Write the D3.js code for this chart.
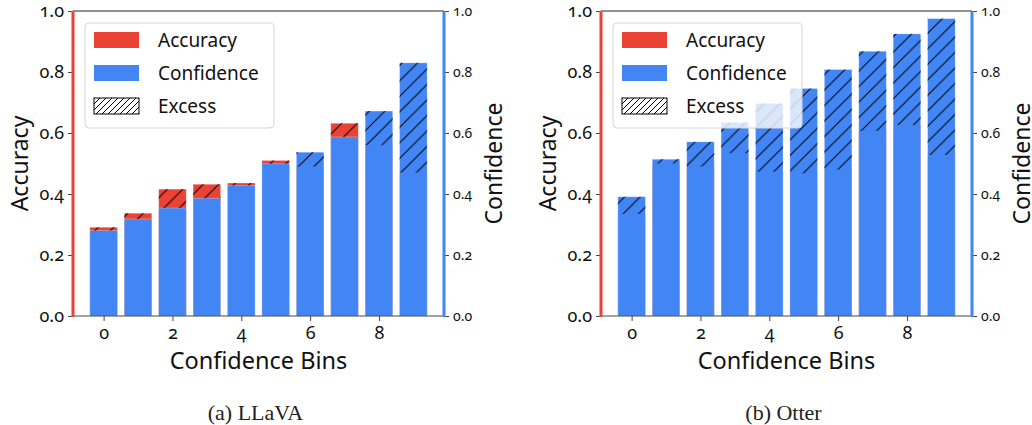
<!DOCTYPE html>
<html lang="en">
<head>
  <meta charset="UTF-8">
  <title>Calibration bins: LLaVA vs Otter</title>
  <style>
    body { margin: 0; background: #fff; }
    svg text { font-family: "Noto Sans", sans-serif; font-variant-numeric: oldstyle-nums; }
    svg text.caption { font-family: "Liberation Serif", "Times New Roman", serif; }
  </style>
</head>
<body>
<svg id="chart" width="1032" height="425"></svg>
<script src="https://d3js.org/d3.v7.min.js"></script>
<script>
  // data (10 confidence bins per model)
  const bins = [0, 1, 2, 3, 4, 5, 6, 7, 8, 9];
  const llavaAccuracy   = [0.291, 0.337, 0.416, 0.432, 0.436, 0.510, 0.490, 0.632, 0.560, 0.470];
  const llavaConfidence = [0.280, 0.318, 0.354, 0.386, 0.428, 0.499, 0.537, 0.587, 0.672, 0.830];
  const otterAccuracy   = [0.335, 0.500, 0.490, 0.534, 0.473, 0.468, 0.480, 0.607, 0.626, 0.528];
  const otterConfidence = [0.391, 0.514, 0.571, 0.635, 0.697, 0.746, 0.808, 0.868, 0.925, 0.975];
  const yTicks = [0, 0.2, 0.4, 0.6, 0.8, 1.0];
  const xTicks = [0, 2, 4, 6, 8];
  const legendItems = ["Accuracy", "Confidence", "Excess"];
  const captions = ["(a) LLaVA", "(b) Otter"];

  const RED = "#EA4335", BLUE = "#4285F4";

  const svg = d3.select("#chart");
  const defs = svg.append("defs");

  // hatch used on bars (sparse) and in legend (dense)
  function hatch(id, size) {
    const p = defs.append("pattern")
      .attr("id", id)
      .attr("patternUnits", "userSpaceOnUse")
      .attr("width", size).attr("height", size);
    p.append("path")
      .attr("d", `M0,${size} L${size},0 M${-size/2},${size/2} L${size/2},${-size/2} M${size/2},${size*1.5} L${size*1.5},${size/2}`)
      .attr("stroke", "#000").attr("stroke-width", 1);
  }
  hatch("hatchBar", 15.5);
  hatch("hatchLegend", 6);

  function drawPanel(left, acc, conf, caption) {
    const right = left + 371;
    const top = 11, bottom = 316;

    const x = d3.scaleLinear().domain([-0.89, 9.89]).range([left, right]);
    const y = d3.scaleLinear().domain([0, 1]).range([bottom, top]);
    const bw = x(0.8) - x(0);

    const g = svg.append("g");

    // accuracy bars underneath, confidence bars on top
    g.selectAll(".acc").data(bins).enter().append("rect")
      .attr("x", d => x(d) - bw / 2)
      .attr("width", bw)
      .attr("y", d => y(acc[d]))
      .attr("height", d => y(0) - y(acc[d]))
      .attr("fill", RED)
      .attr("stroke", "#fff").attr("stroke-opacity", 0.35).attr("stroke-width", 0.8);

    g.selectAll(".conf").data(bins).enter().append("rect")
      .attr("x", d => x(d) - bw / 2)
      .attr("width", bw)
      .attr("y", d => y(conf[d]))
      .attr("height", d => y(0) - y(conf[d]))
      .attr("fill", BLUE)
      .attr("stroke", "#fff").attr("stroke-opacity", 0.35).attr("stroke-width", 0.8);

    // excess gap between the two
    g.selectAll(".gap").data(bins).enter().append("rect")
      .attr("x", d => x(d) - bw / 2)
      .attr("width", bw)
      .attr("y", d => y(Math.max(acc[d], conf[d])))
      .attr("height", d => Math.abs(y(acc[d]) - y(conf[d])))
      .attr("fill", "url(#hatchBar)");

    // axes
    const fmt = d3.format(".1f");
    const yl = g.append("g").attr("transform", `translate(${left},0)`)
      .call(d3.axisLeft(y).tickValues(yTicks).tickFormat(fmt).tickSize(5).tickPadding(4));
    yl.selectAll("text").attr("font-size", 18).attr("fill", "#111");

    const yr = g.append("g").attr("transform", `translate(${right},0)`)
      .call(d3.axisRight(y).tickValues(yTicks).tickFormat(fmt).tickSize(5).tickPadding(4));
    yr.selectAll("text").attr("font-size", 14).attr("fill", "#111");

    const xa = g.append("g").attr("transform", `translate(0,${bottom})`)
      .call(d3.axisBottom(x).tickValues(xTicks).tickFormat(d3.format("d")).tickSize(5).tickPadding(5));
    xa.selectAll("text").attr("font-size", 18).attr("fill", "#111");

    [yl, yr, xa].forEach(a => {
      a.select(".domain").remove();
      a.selectAll("line").attr("stroke", "#444");
    });

    // spines
    g.append("line").attr("x1", left).attr("x2", right).attr("y1", top).attr("y2", top)
      .attr("stroke", "#222").attr("stroke-width", 1);
    g.append("line").attr("x1", left).attr("x2", right).attr("y1", bottom).attr("y2", bottom)
      .attr("stroke", "#444").attr("stroke-width", 1);
    g.append("line").attr("x1", left).attr("x2", left).attr("y1", top).attr("y2", bottom + 1)
      .attr("stroke", RED).attr("stroke-width", 3);
    g.append("line").attr("x1", right).attr("x2", right).attr("y1", top).attr("y2", bottom + 1)
      .attr("stroke", BLUE).attr("stroke-width", 3);

    // axis titles
    g.append("text")
      .attr("transform", `translate(${left - 45},${(top + bottom) / 2}) rotate(-90)`)
      .attr("text-anchor", "middle").attr("font-size", 23).attr("fill", "#111")
      .text("Accuracy");
    g.append("text")
      .attr("transform", `translate(${right + 58},${(top + bottom) / 2}) rotate(-90)`)
      .attr("text-anchor", "middle").attr("font-size", 23).attr("fill", "#111")
      .text("Confidence");
    g.append("text")
      .attr("x", (left + right) / 2).attr("y", 369)
      .attr("text-anchor", "middle").attr("font-size", 23.5).attr("fill", "#111")
      .text("Confidence Bins");

    // legend
    const lg = g.append("g").attr("transform", `translate(${left + 12},23)`);
    lg.append("rect").attr("width", 189).attr("height", 105).attr("rx", 4)
      .attr("fill", "#fff").attr("fill-opacity", 0.8)
      .attr("stroke", "#d6d6d6").attr("stroke-width", 1);
    const fills = [RED, BLUE, "url(#hatchLegend)"];
    legendItems.forEach((name, i) => {
      const row = lg.append("g").attr("transform", `translate(9,${9 + i * 33})`);
      row.append("rect").attr("width", 45).attr("height", 16)
        .attr("fill", fills[i])
        .attr("stroke", i === 2 ? "#000" : "none").attr("stroke-width", 1);
      row.append("text").attr("x", 64).attr("y", 15)
        .attr("font-size", 19).attr("fill", "#111").text(name);
    });

    // caption
    svg.append("text").attr("class", "caption")
      .attr("x", (left + right) / 2 - 3).attr("y", 420)
      .attr("text-anchor", "middle").attr("font-size", 22).attr("fill", "#222")
      .text(caption);
  }

  drawPanel(73, llavaAccuracy, llavaConfidence, captions[0]);
  drawPanel(601, otterAccuracy, otterConfidence, captions[1]);
</script>
</body>
</html>
